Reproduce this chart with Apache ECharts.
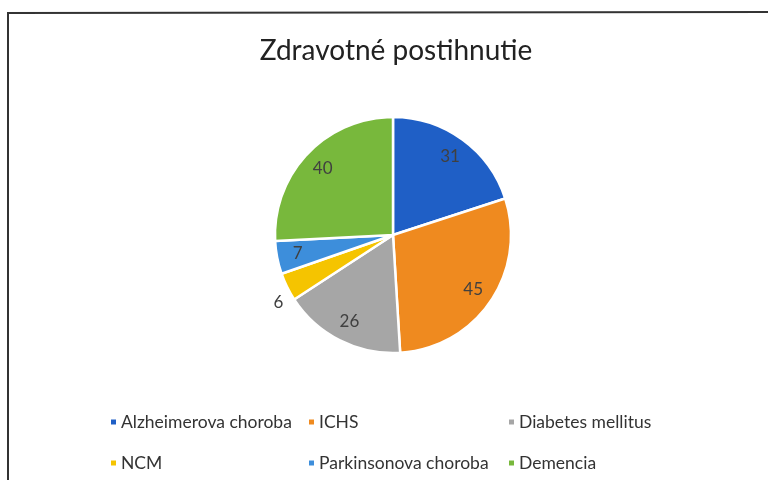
<!DOCTYPE html>
<html><head><meta charset="utf-8">
<script src="https://cdn.jsdelivr.net/npm/echarts@6/dist/echarts.min.js"></script>
<style>html,body{margin:0;padding:0;background:#fff}#c{width:768px;height:480px}</style>
</head><body><div id="c"></div>
<script>
var titleText = 'Zdravotné postihnutie';
var categories = ['Alzheimerova choroba', 'ICHS', 'Diabetes mellitus', 'NCM', 'Parkinsonova choroba', 'Demencia'];
var values = [31, 45, 26, 6, 7, 40];
var colors = ['#1F5FC6', '#EF8A1F', '#A6A6A6', '#F5C400', '#3D8EDB', '#78B83C'];
var outsideLabels = ['NCM'];

var legendPos = [[104, 408], [302, 408], [502, 408], [104, 449], [302, 449], [502, 449]];

var chart = echarts.init(document.getElementById('c'), null, {renderer: 'canvas'});
var font = 'Lato, "Noto Sans", sans-serif';

var pieData = categories.map(function (c, i) {
  return { name: c, value: values[i], itemStyle: { color: colors[i] } };
});
var labelData = categories.map(function (c, i) {
  var out = outsideLabels.indexOf(c) >= 0;
  return {
    name: c, value: values[i],
    label: out ? { position: 'outside', distanceToLabelLine: 0, offset: [0, 14] } : { position: 'inside' },
    labelLine: { show: false, length: 4, length2: 0 }
  };
});

var legends = categories.map(function (c, i) {
  return {
    data: [c], left: legendPos[i][0], top: legendPos[i][1],
    icon: 'rect', itemWidth: 7, itemHeight: 7, itemGap: 0,
    textStyle: { fontFamily: font, fontSize: 17.5, color: '#333', padding: [0, 0, 0, -1] },
    selectedMode: false
  };
});

chart.setOption({
  animation: false,
  backgroundColor: '#fff',
  title: { text: titleText, left: 391, top: 32, textAlign: 'center',
    textStyle: { fontFamily: font, fontSize: 28, fontWeight: 'normal', color: '#222' } },
  legend: legends,
  graphic: [{
    type: 'polyline', shape: { points: [[8, 480], [8, 13], [768, 12]] },
    style: { stroke: '#333', lineWidth: 2, fill: null }, silent: true
  }],
  series: [{
    type: 'pie', center: [393, 235], radius: 118, startAngle: 90, clockwise: true,
    data: pieData, label: { show: false }, labelLine: { show: false },
    itemStyle: { borderColor: '#fff', borderWidth: 2.5 }, silent: true
  }, {
    type: 'pie', center: [393, 235], radius: [70, 118], startAngle: 90, clockwise: true,
    data: labelData, silent: true, legendHoverLink: false,
    itemStyle: { color: 'rgba(0,0,0,0)', borderWidth: 0 },
    label: { show: true, formatter: '{c}', fontFamily: font, fontSize: 17, color: '#404040' },
    emphasis: { disabled: true }
  }]
});
</script></body></html>
